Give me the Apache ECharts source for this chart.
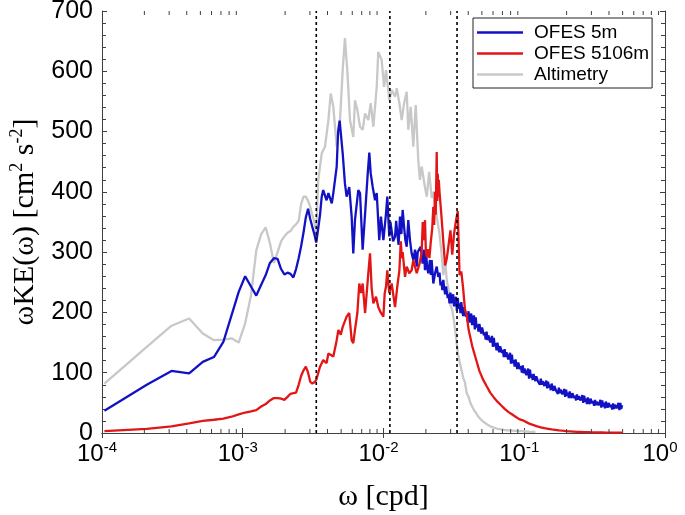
<!DOCTYPE html>
<html>
<head>
<meta charset="utf-8">
<script src="https://cdn.jsdelivr.net/npm/echarts@6/dist/echarts.min.js"></script>
<style>html,body{margin:0;padding:0;background:#fff;}#c{width:685px;height:515px;}</style>
</head>
<body>
<div id="c"></div>
<script>
// ---- data ----
const seriesNames = ['OFES 5m', 'OFES 5106m', 'Altimetry'];
const dashedFreqs = [0.00333, 0.0111, 0.0333];
const minorTickFreqs = [2e-4,3e-4,4e-4,5e-4,6e-4,7e-4,8e-4,9e-4,
  2e-3,3e-3,4e-3,5e-3,6e-3,7e-3,8e-3,9e-3,
  0.02,0.03,0.04,0.05,0.06,0.07,0.08,0.09,
  0.2,0.3,0.4,0.5,0.6,0.7,0.8,0.9];

// low-frequency grid (cpd)
const lowFreq = [1.04e-4,2.08e-4,3.12e-4,4.16e-4,5.2e-4,6.24e-4,7.28e-4,8.32e-4,9.36e-4,1.04e-3,
  1.144e-3,1.248e-3,1.352e-3,1.456e-3,1.56e-3,1.664e-3,1.768e-3,1.872e-3,1.976e-3,2.08e-3,
  2.184e-3,2.288e-3,2.392e-3,2.496e-3,2.6e-3,2.704e-3,2.808e-3,2.912e-3,3.016e-3,3.12e-3,
  3.224e-3,3.328e-3];
const blueLow = [37,80,103,99,118,126,151,195,234,260,243,228,246,262,282,290,289,272,263,266,
  264,258,272,290,310,333,358,372,355,342,330,316];
const redLow = [3,7,11,16,20,22,24,27,31,34,36,38,44,48,54,58,58,57,55,60,
  65,66,67,80,95,104,110,100,85,82,84,88];
const grayLow = [82,143,178,190,165,154,155,157,150,182,228,303,330,341,315,282,300,318,326,332,
  335,342,346,352,380,392,392,385,375,362,350,333];

// mid band [freq, value]
const blueMid = [[3.44e-3,340],[3.54e-3,362],[3.64e-3,392],[3.73e-3,403],[3.94e-3,386],[4.06e-3,398],
  [4.29e-3,381],[4.40e-3,398],[4.65e-3,442],[4.76e-3,500],[4.88e-3,518],[5.13e-3,464],[5.32e-3,414],
  [5.47e-3,392],[5.71e-3,408],[5.94e-3,359],[6.10e-3,298],[6.27e-3,353],[6.62e-3,403],[6.81e-3,398],
  [7.11e-3,304],[7.40e-3,364],[7.73e-3,431],[7.93e-3,465],[8.11e-3,431],[8.38e-3,408],[8.71e-3,386],
  [8.95e-3,398],[9.33e-3,320],[9.59e-3,359],[9.98e-3,320],[1.042e-2,364],[1.064e-2,392],[1.099e-2,326],
  [1.12e-2,350],[1.143e-2,353],[1.17e-2,318],[1.208e-2,326],[1.23e-2,352],[1.253e-2,331],[1.28e-2,312],
  [1.309e-2,359],[1.34e-2,330],[1.368e-2,370],[1.400e-2,342],[1.43e-2,320],[1.462e-2,309],[1.500e-2,353],
  [1.542e-2,320],[1.585e-2,298],[1.629e-2,287],[1.675e-2,304],[1.722e-2,276],[1.75e-2,300],[1.786e-2,298],
  [1.837e-2,309],[1.897e-2,281],[1.941e-2,304],[1.97e-2,270],[2.004e-2,304],[2.04e-2,275],[2.080e-2,265],
  [2.138e-2,287],[2.17e-2,262],[2.198e-2,287],[2.259e-2,248],[2.323e-2,265],[2.388e-2,276],[2.449e-2,259]];
const redMid = [[3.54e-3,110],[3.73e-3,121],[3.94e-3,116],[4.06e-3,132],[4.40e-3,127],[4.65e-3,154],
  [4.78e-3,171],[4.97e-3,163],[5.13e-3,176],[5.47e-3,193],[5.71e-3,199],[5.94e-3,154],[6.10e-3,149],
  [6.27e-3,171],[6.52e-3,199],[6.73e-3,248],[6.92e-3,232],[7.11e-3,248],[7.40e-3,199],[7.80e-3,265],
  [8.02e-3,298],[8.24e-3,240],[8.47e-3,215],[8.85e-3,226],[9.18e-3,209],[9.55e-3,200],[9.98e-3,193],
  [1.02e-2,232],[1.042e-2,243],[1.064e-2,270],[1.099e-2,232],[1.143e-2,248],[1.208e-2,209],[1.253e-2,243],
  [1.297e-2,270],[1.327e-2,318],[1.35e-2,290],[1.368e-2,300],[1.422e-2,259],[1.462e-2,276],[1.524e-2,265],
  [1.585e-2,270],[1.629e-2,287],[1.675e-2,276],[1.722e-2,265],[1.799e-2,280],[1.866e-2,298],[1.9e-2,350],
  [1.935e-2,320],[1.972e-2,353],[2.0e-2,300],[2.028e-2,292],[2.08e-2,305],[2.12e-2,290],[2.163e-2,315],
  [2.22e-2,340],[2.259e-2,375],[2.29e-2,345],[2.323e-2,400],[2.35e-2,362],[2.388e-2,466],[2.41e-2,385],
  [2.43e-2,430],[2.449e-2,392],[2.47e-2,420]];
const grayMid = [[3.44e-3,420],[3.64e-3,464],[3.84e-3,475],[4.06e-3,519],[4.22e-3,563],[4.40e-3,541],
  [4.65e-3,475],[4.91e-3,519],[5.13e-3,602],[5.32e-3,655],[5.53e-3,602],[5.78e-3,519],[6.10e-3,491],
  [6.27e-3,552],[6.52e-3,536],[6.81e-3,508],[7.11e-3,503],[7.40e-3,530],[7.80e-3,519],[8.11e-3,547],
  [8.47e-3,508],[8.95e-3,574],[9.18e-3,632],[9.70e-3,619],[1.009e-2,574],[1.042e-2,602],[1.081e-2,569],
  [1.099e-2,552],[1.143e-2,569],[1.208e-2,558],[1.242e-2,572],[1.297e-2,547],[1.346e-2,519],[1.400e-2,547],
  [1.462e-2,566],[1.500e-2,503],[1.560e-2,541],[1.629e-2,475],[1.694e-2,544],[1.766e-2,453],[1.815e-2,420],
  [1.866e-2,442],[1.97e-2,408],[2.03e-2,392],[2.11e-2,433],[2.2e-2,390],[2.26e-2,400],[2.39e-2,359]];

// high-frequency tail grid (cpd)
const tailFreq = [0.025,0.0258,0.0266,0.0274,0.0282,0.029,0.0299,0.0308,0.0317,0.0327,
  0.0337,0.0347,0.0357,0.0368,0.0379,0.039,0.0402,0.0414,0.0426,0.0439,
  0.0452,0.0466,0.048,0.0494,0.0509,0.0524,0.054,0.0556,0.0573,0.059,
  0.0608,0.0626,0.0645,0.0664,0.0684,0.0705,0.0726,0.0748,0.077,0.0793,
  0.0817,0.0842,0.0867,0.0893,0.092,0.0947,0.0976,0.1005,0.1035,0.1066,
  0.1098,0.1131,0.1165,0.12,0.1236,0.1273,0.1311,0.135,0.1391,0.1433,
  0.1476,0.152,0.1566,0.1613,0.1661,0.1711,0.1762,0.1815,0.1869,0.1925,
  0.1983,0.2042,0.2104,0.2167,0.2232,0.2299,0.2368,0.2439,0.2512,0.2587,
  0.2665,0.2745,0.2827,0.2912,0.2999,0.3089,0.3182,0.3277,0.3376,0.3477,
  0.3581,0.3689,0.3799,0.3913,0.4031,0.4152,0.4276,0.4405,0.4537,0.4673,
  0.4813,0.4958];
// in-between frequencies for the dense OFES 5m tail
const tailMidFreq = [0.0254,0.0262,0.027,0.0278,0.0286,0.02945,0.03035,0.03125,0.0322,0.0332,
  0.0342,0.0352,0.03625,0.03735,0.03845,0.0396,0.0408,0.042,0.04325,0.04455,
  0.0459,0.0473,0.0487,0.05015,0.05165,0.0532,0.0548,0.05645,0.05815,0.0599,
  0.0617,0.06355,0.06545,0.0674,0.06945,0.07155,0.0737,0.0759,0.07815,0.0805,
  0.08295,0.08545,0.088,0.09065,0.09335,0.09615,0.09905,0.102,0.10505,0.1082,
  0.11145,0.1148,0.11825,0.1218,0.12545,0.1292,0.13305,0.13705,0.1412,0.14545,
  0.1498,0.1543,0.15895,0.1637,0.1686,0.17365,0.17885,0.1842,0.1897,0.1954,
  0.20125,0.2073,0.21355,0.21995,0.22655,0.23335,0.24035,0.24755,0.25495,0.2626,
  0.2705,0.2786,0.28695,0.29555,0.3044,0.31355,0.32295,0.33265,0.34265,0.3529,
  0.3635,0.3744,0.3856,0.3972,0.40915,0.4214,0.43405,0.4471,0.4605,0.4743,
  0.48855];
const blueTail = [266,245,251,237,254,241,230,243,243,224,230,215,233,215,226,230,210,213,226,203,
  224,206,215,199,217,204,194,209,211,193,199,185,202,183,194,198,179,182,195,172,
  192,175,180,168,181,172,165,175,176,162,167,155,168,154,162,165,150,152,161,143,
  158,144,149,137,150,141,134,144,146,133,138,126,139,126,134,137,122,124,133,115,
  130,116,121,110,122,113,106,117,119,106,111,100,112,99,107,110,96,98,107,90,
  105,92,97,88,98,91,86,94,95,85,88,80,90,80,86,88,78,80,87,74,
  85,75,80,71,82,75,70,78,80,70,73,65,75,66,72,74,64,66,73,60,
  72,62,67,58,69,62,58,66,68,58,62,54,64,55,61,64,54,56,63,50,
  62,52,57,48,59,52,48,57,59,49,53,45,55,46,52,55,46,48,55,42,
  54,44,50,41,52,46,42,50,52,43,47,39,49,40,47,50,41,43,50,38,
  50,40,46];
const redTail = [400,360,318,278,290,312,336,296,330,352,
  368,262,268,240,205,196,172,170,145,146,
  124,125,103,106,89,92,78,80,67,70,
  59,62,52,55,46,48,40,43,35,38,
  31,33,27,29,23,25,21,20,18,17,
  15,14.5,13,12,11,10.5,9.5,9,8,7.5,
  7,6.5,6,5.6,5.2,4.8,4.4,4.1,3.8,3.5,
  3.2,3,2.8,2.6,2.4,2.2,2,1.9,1.8,1.7,
  1.6,1.5,1.4,1.3,1.2,1.1,1.05,1,0.95,0.9,
  0.85,0.8,0.75,0.7,0.68,0.65,0.62,0.6,0.58,0.55,
  0.52,0.5];
const grayTail = [330,300,262,286,252,238,212,204,186,160,
  134,118,106,92,84,66,60,50,44,38,
  34,29,25,22,19,17,15,13,11,10,
  9,8,7,6.5,6,5.5,5,5,4.5,4.5,
  4,4,3.5,3.5,3,3,3,2.5,2.5,2.5,
  2,2,2,2];

// ---- build ----
const pairs = (fs, vs) => vs.map((v, i) => [fs[i], v]);
const tailFine = tailFreq.concat(tailMidFreq).sort((a, b) => a - b);
const blueData = pairs(lowFreq, blueLow).concat(blueMid, pairs(tailFine, blueTail));
const redData = pairs(lowFreq, redLow).concat(redMid, pairs(tailFreq, redTail));
const grayData = pairs(lowFreq, grayLow).concat(grayMid, pairs(tailFreq, grayTail));

const AX = '#404040';
const sans = 'Liberation Sans';
const serif = 'Liberation Serif';
const YMAX = 700;
const LW = 2.3;
const chart = echarts.init(document.getElementById('c'), null, {renderer: 'canvas'});

const xBase = {
  type: 'log', logBase: 10, min: 1e-4, max: 1,
  axisLine: {show: true, lineStyle: {color: AX, width: 1}},
  axisTick: {show: true, inside: true, length: 5, lineStyle: {color: AX}},
  splitLine: {show: false}, minorTick: {show: false}
};
const yBase = {
  type: 'value', min: 0, max: YMAX, interval: 100,
  axisLine: {show: true, lineStyle: {color: AX, width: 1}},
  axisTick: {show: true, inside: true, length: 5, lineStyle: {color: AX}},
  minorTick: {show: true, splitNumber: 5, length: 4, lineStyle: {color: AX}},
  splitLine: {show: false}
};

chart.setOption({
  animation: false,
  backgroundColor: '#fff',
  grid: {left: 102, right: 20, top: 11, bottom: 82, containLabel: false, outerBoundsMode: 'none'},
  legend: {
    data: seriesNames, orient: 'vertical', left: 473, top: 18,
    icon: 'rect', itemWidth: 46, itemHeight: 2.5, itemGap: 0,
    padding: [4, 3, 3, 4], borderColor: '#222', borderWidth: 1, backgroundColor: '#fff',
    textStyle: {fontFamily: sans, fontSize: 19, color: '#000', lineHeight: 21, padding: [0, 0, 0, 6]},
    selectedMode: false
  },
  xAxis: [
    Object.assign({}, xBase, {
      position: 'bottom',
      name: '{t|ω [cpd]}', nameLocation: 'middle', nameGap: 49, nameMoveOverlap: false,
      nameTextStyle: {rich: {t: {fontFamily: serif, fontSize: 30, color: '#000'}}},
      axisLabel: {
        show: true, margin: 7, padding: [0, 10, 0, 0],
        formatter: v => '{b|10}{s|' + Math.round(Math.log10(v)) + '}',
        rich: {
          b: {fontFamily: sans, fontSize: 24, color: '#000', lineHeight: 28},
          s: {fontFamily: sans, fontSize: 15, color: '#000', verticalAlign: 'top', lineHeight: 16}
        }
      }
    }),
    Object.assign({}, xBase, {position: 'top', axisLabel: {show: false}})
  ],
  yAxis: [
    Object.assign({}, yBase, {
      position: 'left',
      name: '{t|ωKE(ω) [cm}{s|2}{t| s}{s|-2}{t|]}', nameLocation: 'middle', nameGap: 60, nameRotate: 90,
      nameMoveOverlap: false,
      nameTextStyle: {rich: {
        t: {fontFamily: serif, fontSize: 30, color: '#000', lineHeight: 34},
        s: {fontFamily: serif, fontSize: 18, color: '#000', verticalAlign: 'top', lineHeight: 18}
      }},
      axisLabel: {show: true, margin: 9, fontFamily: sans, fontSize: 25, color: '#000'}
    }),
    Object.assign({}, yBase, {position: 'right', axisLabel: {show: false}})
  ],
  series: [
    {
      name: 'Altimetry', type: 'line', data: grayData, showSymbol: false, symbol: 'none',
      lineStyle: {color: '#c8c8c8', width: LW}, itemStyle: {color: '#c8c8c8'}, z: 2
    },
    {
      name: 'OFES 5m', type: 'line', data: blueData, showSymbol: false, symbol: 'none',
      lineStyle: {color: '#1212c4', width: LW}, itemStyle: {color: '#1212c4'}, z: 3
    },
    {
      name: 'OFES 5106m', type: 'line', data: redData, showSymbol: false, symbol: 'none',
      lineStyle: {color: '#e21616', width: LW}, itemStyle: {color: '#e21616'}, z: 4
    },
    {
      name: 'dashed', type: 'custom', silent: true, clip: false, z: 6,
      data: dashedFreqs.map(f => [f, 0]),
      renderItem: (params, api) => {
        const f = api.value(0);
        const b = api.coord([f, 0]);
        const t = api.coord([f, YMAX]);
        return {type: 'line', shape: {x1: b[0], y1: b[1], x2: t[0], y2: t[1]},
          style: {stroke: '#000', lineWidth: 1.6, lineDash: [3, 3]}};
      }
    },
    {
      name: 'minorx', type: 'custom', silent: true, clip: false, z: 7,
      data: minorTickFreqs.map(f => [f, 0]),
      renderItem: (params, api) => {
        const f = api.value(0);
        const b = api.coord([f, 0]);
        const t = api.coord([f, YMAX]);
        return {type: 'group', children: [
          {type: 'line', shape: {x1: b[0], y1: b[1], x2: b[0], y2: b[1] - 4}, style: {stroke: AX, lineWidth: 1}},
          {type: 'line', shape: {x1: t[0], y1: t[1], x2: t[0], y2: t[1] + 4}, style: {stroke: AX, lineWidth: 1}}
        ]};
      }
    }
  ]
});
</script>
</body>
</html>
